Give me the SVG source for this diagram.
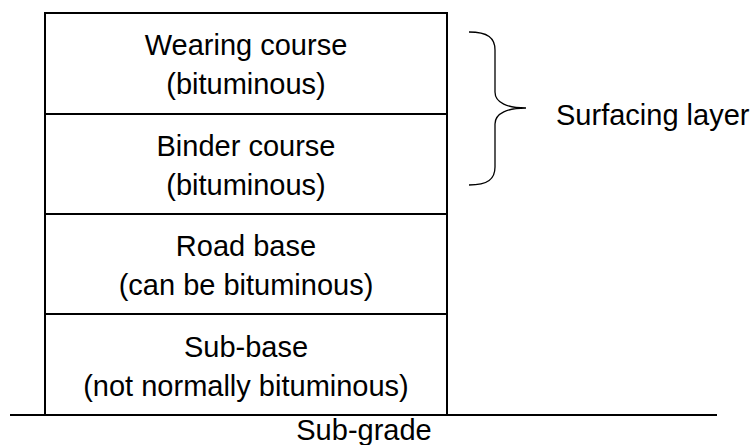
<svg xmlns="http://www.w3.org/2000/svg" width="754" height="445" viewBox="0 0 754 445">
<style>
.t{font-family:"Liberation Sans",Arial,sans-serif;font-size:29px;fill:#000;text-anchor:middle}
.b{fill:#fff;stroke:#000;stroke-width:2}
.l{stroke:#000;stroke-width:2;fill:none}
</style>
<rect width="754" height="445" fill="#fff"/>
<g id="wearing"><rect class="b" x="45" y="13" width="402" height="101"/><text class="t" x="246" y="55">Wearing course</text><text class="t" x="246" y="94">(bituminous)</text></g>
<g id="binder"><rect class="b" x="45" y="114" width="402" height="100"/><text class="t" x="246" y="156">Binder course</text><text class="t" x="246" y="195">(bituminous)</text></g>
<g id="roadbase"><rect class="b" x="45" y="214" width="402" height="100"/><text class="t" x="246" y="256">Road base</text><text class="t" x="246" y="295">(can be bituminous)</text></g>
<g id="subbase"><rect class="b" x="45" y="314" width="402" height="101"/><text class="t" x="246" y="357">Sub-base</text><text class="t" x="246" y="396">(not normally bituminous)</text></g>
<g id="connectors">
<line class="l" x1="10" y1="415" x2="717" y2="415"/>
<path d="M469 32 C488 32 495 38 495 50 L495 92 C495 103 508 108 526 108 C508 108 495 113 495 124 L495 167 C495 179 488 185 469 185" fill="none" stroke="#000" stroke-width="1.3"/>
</g>
<g id="surfacing"><text class="t" x="556" y="125" style="text-anchor:start">Surfacing layer</text></g>
<g id="subgrade"><text class="t" x="364" y="440">Sub-grade</text></g>
</svg>
